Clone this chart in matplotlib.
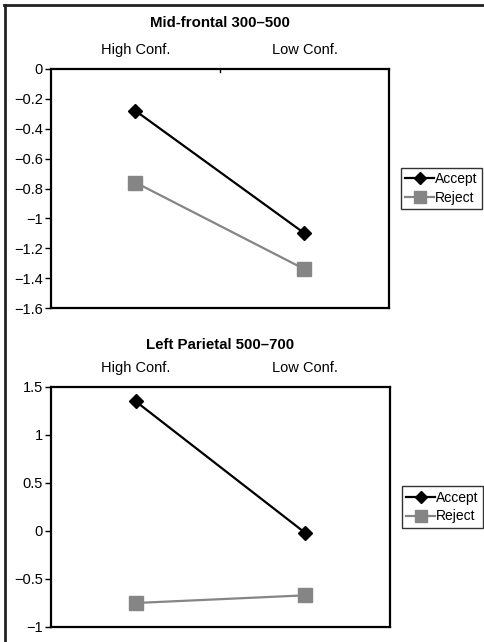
import matplotlib.pyplot as plt
from matplotlib.lines import Line2D

plt.rcParams['font.family'] = ['Liberation Sans', 'DejaVu Sans']

categories = ["High Conf.", "Low Conf."]
series_names = ["Accept", "Reject"]

# Mid-frontal 300-500
mf_accept = [-0.28, -1.10]
mf_reject = [-0.76, -1.34]
mf_ticks = [0, -0.2, -0.4, -0.6, -0.8, -1, -1.2, -1.4, -1.6]
mf_ticklabels = ["0", "\u22120.2", "\u22120.4", "\u22120.6", "\u22120.8", "\u22121",
                 "\u22121.2", "\u22121.4", "\u22121.6"]

# Left parietal 500-700
lp_accept = [1.35, -0.02]
lp_reject = [-0.75, -0.67]
lp_ticks = [1.5, 1, 0.5, 0, -0.5, -1]
lp_ticklabels = ["1.5", "1", "0.5", "0", "\u22120.5", "\u22121"]

GRAY = "#858585"

fig = plt.figure(figsize=(4.85, 6.42), dpi=100)
W, H = 485, 642


def px_axes(x0, y0, x1, y1):
    return fig.add_axes([x0 / W, 1 - y1 / H, (x1 - x0) / W, (y1 - y0) / H])


def panel(ax, title, acc, rej, ticks, labels, ylim, title_y, cat_y, top_tick):
    x = [0, 1]
    ax.plot(x, acc, color="black", lw=1.6, marker="D", ms=7.5, mfc="black", mec="black")
    ax.plot(x, rej, color=GRAY, lw=1.6, marker="s", ms=9.5, mfc=GRAY, mec=GRAY)
    ax.set_xlim(-0.5, 1.5)
    ax.set_ylim(*ylim)
    ax.set_yticks(ticks)
    ax.set_yticklabels(labels, fontsize=10.5)
    ax.tick_params(axis="y", direction="out", length=4, width=1, pad=2)
    ax.set_xticks([])
    for s in ax.spines.values():
        s.set_linewidth(1.6)
    if top_tick:
        ax.plot([0.5, 0.5], [ylim[1], ylim[1] - (ylim[1] - ylim[0]) * 0.012],
                color="black", lw=1, clip_on=False)
    for i, c in enumerate(categories):
        fig.text((51 + 338 * (0.25 + 0.5 * i)) / W, 1 - cat_y / H, c,
                 ha="center", va="center", fontsize=10.5)
    fig.text(220 / W, 1 - title_y / H, title, ha="center", va="center",
             fontsize=10.8, fontweight="bold")
    handles = [
        Line2D([], [], color="black", lw=1.6, marker="D", ms=6.5, mfc="black"),
        Line2D([], [], color=GRAY, lw=1.6, marker="s", ms=8, mfc=GRAY, mec=GRAY),
    ]
    leg = ax.legend(handles, series_names, loc="center left",
                    bbox_to_anchor=(1.035, 0.5), fontsize=10, frameon=True,
                    fancybox=False, edgecolor="black", handlelength=2.1,
                    handletextpad=0.05, borderpad=0.3, labelspacing=0.35,
                    borderaxespad=0)
    leg.get_frame().set_linewidth(1)


ax1 = px_axes(51, 69, 389, 308)
panel(ax1, "Mid-frontal 300\u2013500", mf_accept, mf_reject, mf_ticks,
      mf_ticklabels, (-1.6, 0), 23, 50, True)

ax2 = px_axes(51, 387, 390, 627)
panel(ax2, "Left Parietal 500\u2013700", lp_accept, lp_reject, lp_ticks,
      lp_ticklabels, (-1, 1.5), 345, 368, False)

# outer frame (top and left edges)
fig.add_artist(Line2D([4.5 / W, 485 / W], [1 - 5 / H, 1 - 5 / H], color="#222222", lw=2))
fig.add_artist(Line2D([5 / W, 5 / W], [1 - 5 / H, 0], color="#222222", lw=2))

fig.savefig("out.png", dpi=100)
